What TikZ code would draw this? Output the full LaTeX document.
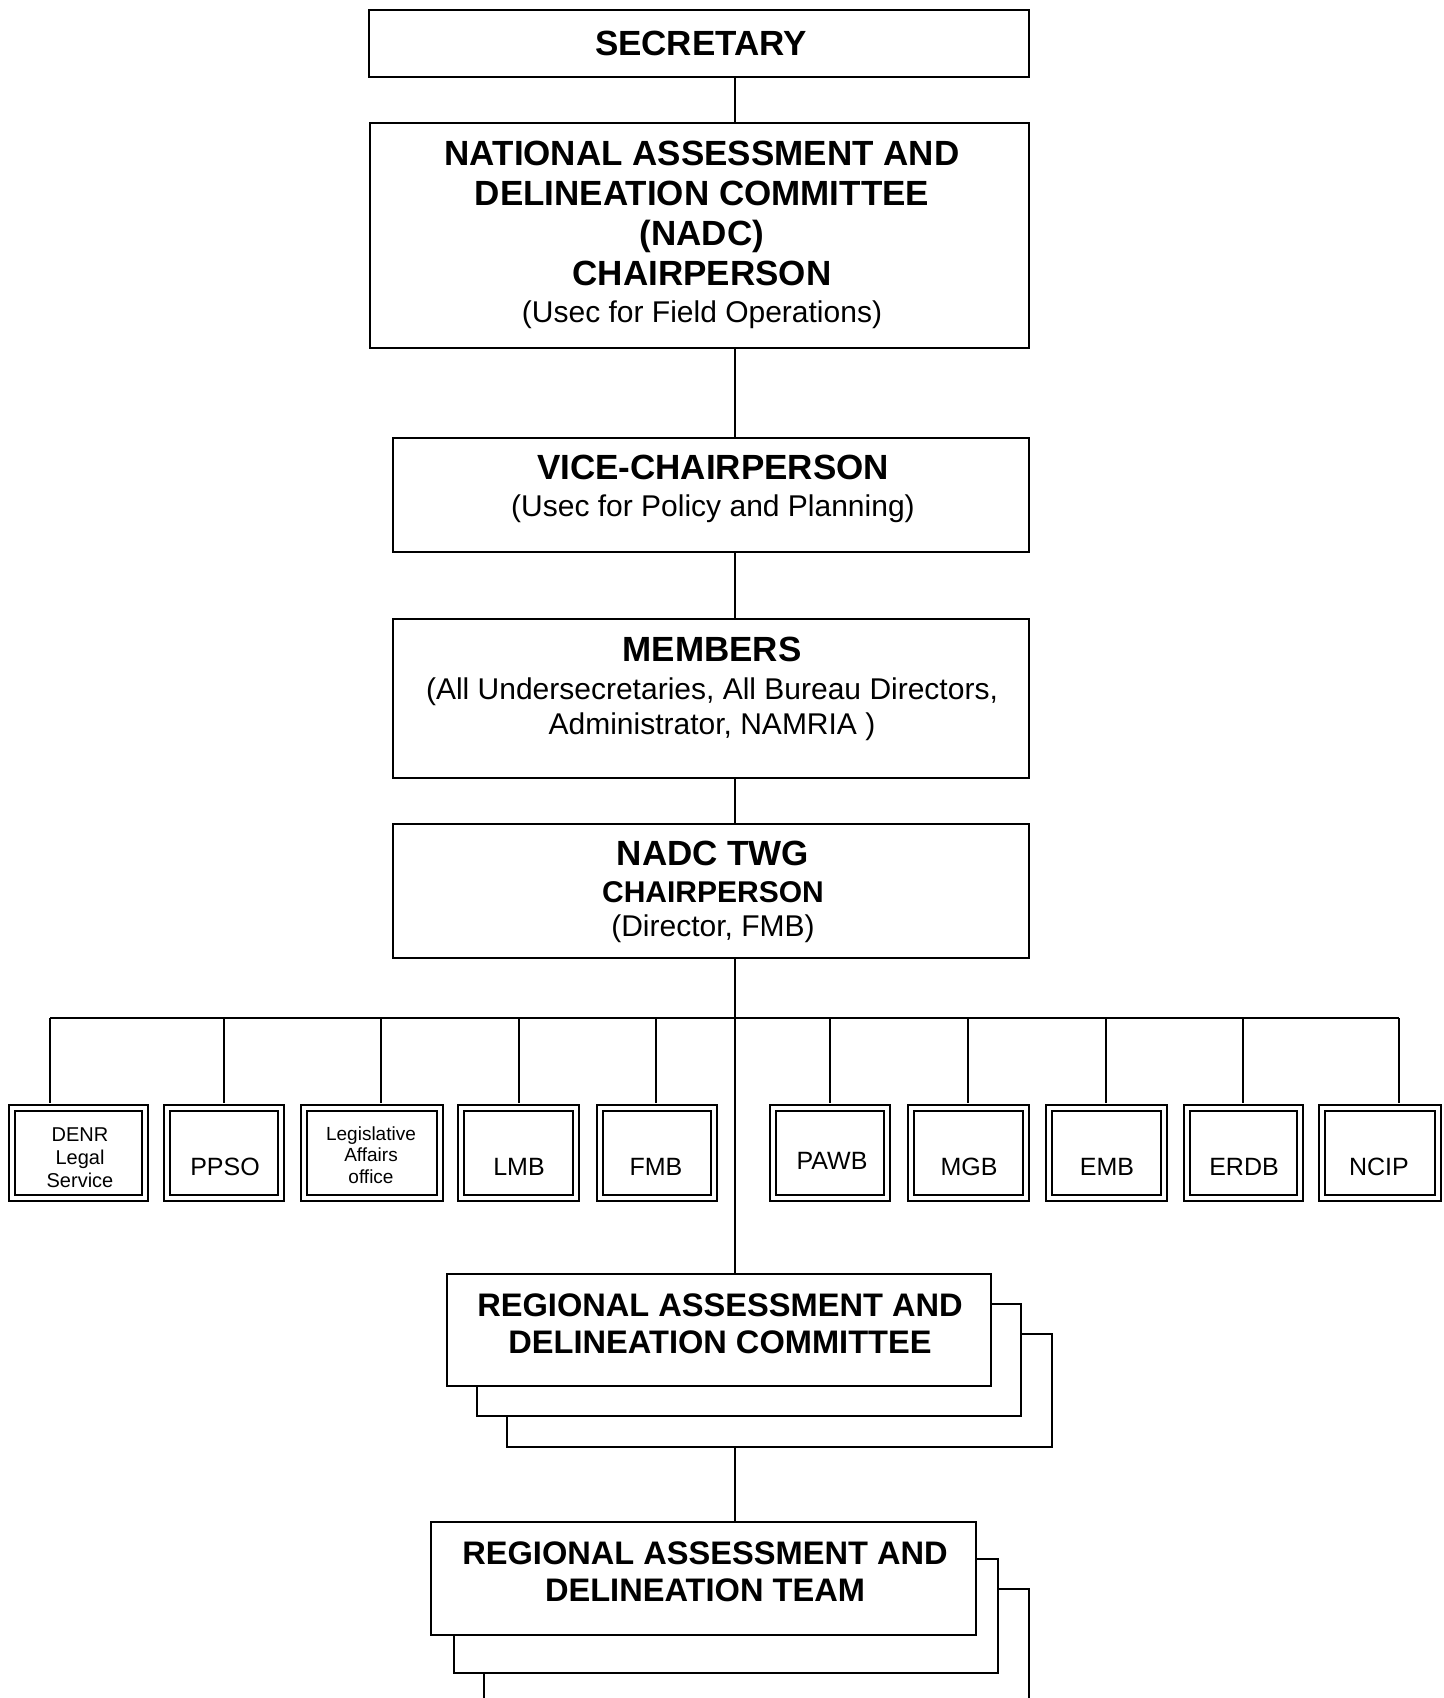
\documentclass[tikz,border=0pt]{standalone}
\usepackage{fontspec}
\setmainfont{Liberation Sans}
\usetikzlibrary{fit}
\newcommand\mysubtext[1]{{\fontsize{15}{18}\selectfont\mdseries #1}}
\newcommand\mysubbold[1]{{\fontsize{15}{18}\selectfont\bfseries #1}}
\begin{document}
\begin{tikzpicture}[x=0.5pt,y=-0.5pt,
  bigbox/.style={draw, line width=0.9pt, fill=white, inner sep=0pt},
  smallbox/.style={draw, line width=1.1pt, double, double distance=1.9pt, fill=white, inner sep=0pt},
  conn/.style={draw, line width=0.75pt},
  ttl/.style={font=\fontsize{17.5}{20}\selectfont\bfseries, align=center, inner sep=0pt},
  rttl/.style={font=\fontsize{16.3}{18.5}\selectfont\bfseries, align=center, inner sep=0pt},
  lbl/.style={font=\fontsize{12.5}{14}\selectfont, align=center, inner sep=0pt},
  tinylbl/.style={font=\fontsize{10}{11.5}\selectfont, align=center, inner sep=0pt},
  tinierlbl/.style={font=\fontsize{9.5}{10.75}\selectfont, align=center, inner sep=0pt},
]
\useasboundingbox (0,0) rectangle (1444,1698);
\clip (0,0) rectangle (1444,1698);
\fill[white] (0,0) rectangle (1444,1698);

\coordinate (spine) at (735,0);

% main boxes
\node[bigbox, fit={(369,10) (1029,77)}] (sec) {};
\node[bigbox, fit={(370,123) (1029,348)}] (nadc) {};
\node[bigbox, fit={(393,438) (1029,552)}] (vice) {};
\node[bigbox, fit={(393,619) (1029,778)}] (mem) {};
\node[bigbox, fit={(393,824) (1029,958)}] (twg) {};

\node[ttl] (sect) at (701,43.5) {SECRETARY};
\node[ttl] (nadct) at (702,235) {NATIONAL ASSESSMENT AND\\DELINEATION COMMITTEE\\(NADC)\\CHAIRPERSON\\[-1.5pt]\mysubtext{(Usec for Field Operations)}};
\node[ttl] (vicet) at (713,489) {VICE-CHAIRPERSON\\[-1.5pt]\mysubtext{(Usec for Policy and Planning)}};
\node[ttl] (memt) at (712,689) {MEMBERS\\[-1pt]\mysubtext{(All Undersecretaries, All Bureau Directors,}\\[-2.5pt]\mysubtext{Administrator, NAMRIA )}};
\node[ttl] (twgt) at (713,892) {NADC TWG\\[-1.75pt]\mysubbold{CHAIRPERSON}\\[-2.75pt]\mysubtext{(Director, FMB)}};

% regional committee stack
\node[bigbox, fit={(507,1334) (1052,1447)}] (radcC) {};
\node[bigbox, fit={(477,1304) (1021,1416)}] (radcB) {};
\node[bigbox, fit={(447,1274) (991,1386)}] (radc) {};
\node[rttl] (radct) at (720,1324) {REGIONAL ASSESSMENT AND\\DELINEATION COMMITTEE};

% regional team stack
\node[bigbox, fit={(484,1589) (1029,1740)}] (radtC) {};
\node[bigbox, fit={(454,1559) (998,1673)}] (radtB) {};
\node[bigbox, fit={(431,1522) (976,1635)}] (radt) {};
\node[rttl] (radtt) at (705,1572) {REGIONAL ASSESSMENT AND\\DELINEATION TEAM};

% small offices
\node[smallbox, fit={(12,1108) (145,1198)}] (denr) {};
\node[smallbox, fit={(167,1108) (281,1198)}] (ppso) {};
\node[smallbox, fit={(304,1108) (440,1198)}] (legis) {};
\node[smallbox, fit={(461,1108) (576,1198)}] (lmb) {};
\node[smallbox, fit={(600,1108) (714,1198)}] (fmb) {};
\node[smallbox, fit={(773,1108) (887,1198)}] (pawb) {};
\node[smallbox, fit={(911,1108) (1026,1198)}] (mgb) {};
\node[smallbox, fit={(1049,1108) (1164,1198)}] (emb) {};
\node[smallbox, fit={(1187,1108) (1300,1198)}] (erdb) {};
\node[smallbox, fit={(1322,1108) (1438,1198)}] (ncip) {};

\node[tinylbl] (denrt) at (80,1158) {DENR\\Legal\\Service};
\node[lbl] (ppsot) at (225,1167) {PPSO};
\node[tinierlbl] (legist) at (371,1155) {Legislative\\Affairs\\office};
\node[lbl] (lmbt) at (519,1167) {LMB};
\node[lbl] (fmbt) at (656,1167) {FMB};
\node[lbl] (pawbt) at (832,1161) {PAWB};
\node[lbl] (mgbt) at (969,1167) {MGB};
\node[lbl] (embt) at (1107,1167) {EMB};
\node[lbl] (erdbt) at (1244,1167) {ERDB};
\node[lbl] (ncipt) at (1379,1167) {NCIP};

% bus coordinates
\coordinate (b1) at (50,1018);
\coordinate (b2) at (224,1018);
\coordinate (b3) at (381,1018);
\coordinate (b4) at (519,1018);
\coordinate (b5) at (656,1018);
\coordinate (b6) at (830,1018);
\coordinate (b7) at (968,1018);
\coordinate (b8) at (1106,1018);
\coordinate (b9) at (1243,1018);
\coordinate (b10) at (1399,1018);

% connectors
\draw[conn] (sec.south -| spine) -- (nadc.north -| spine);
\draw[conn] (nadc.south -| spine) -- (vice.north -| spine);
\draw[conn] (vice.south -| spine) -- (mem.north -| spine);
\draw[conn] (mem.south -| spine) -- (twg.north -| spine);
\draw[conn] (twg.south -| spine) -- (radc.north -| spine);
\draw[conn] (radcC.south -| spine) -- (radt.north -| spine);
\draw[conn] (b1) -- (b10);
\draw[conn] (b1) -- ([yshift=2pt]denr.north -| b1);
\draw[conn] (b2) -- ([yshift=2pt]ppso.north -| b2);
\draw[conn] (b3) -- ([yshift=2pt]legis.north -| b3);
\draw[conn] (b4) -- ([yshift=2pt]lmb.north -| b4);
\draw[conn] (b5) -- ([yshift=2pt]fmb.north -| b5);
\draw[conn] (b6) -- ([yshift=2pt]pawb.north -| b6);
\draw[conn] (b7) -- ([yshift=2pt]mgb.north -| b7);
\draw[conn] (b8) -- ([yshift=2pt]emb.north -| b8);
\draw[conn] (b9) -- ([yshift=2pt]erdb.north -| b9);
\draw[conn] (b10) -- ([yshift=2pt]ncip.north -| b10);
\end{tikzpicture}
\end{document}
